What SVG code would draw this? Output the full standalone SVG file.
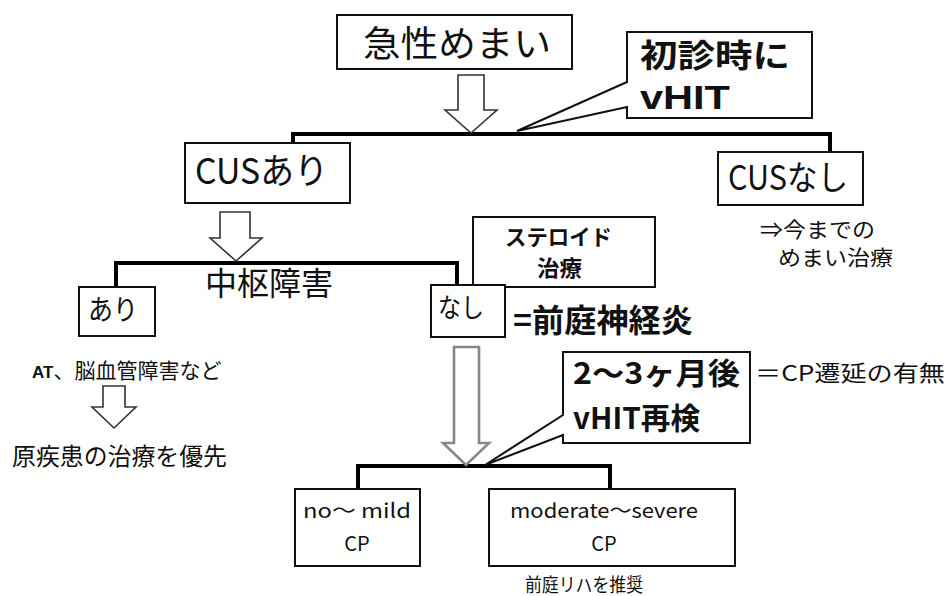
<svg xmlns="http://www.w3.org/2000/svg" width="947" height="596" viewBox="0 0 947 596">
<style>
.box{fill:#fff;stroke:#111;stroke-width:2}
.bar{fill:none;stroke:#000;stroke-width:4}
.arr{fill:#fff;stroke:#333;stroke-width:1.6;stroke-linejoin:miter}
.arrg{fill:#fff;stroke:#888;stroke-width:2.6}
.t{font-family:"Noto Sans CJK JP","Liberation Sans",sans-serif;fill:#111}
.b{font-weight:bold}
</style>
<rect width="947" height="596" fill="#fff"/>
<g id="connectors">
<path class="bar" d="M293,143 V134 H830 V152"/>
<path class="bar" d="M116,287 V263 H457 V285"/>
<path class="bar" d="M358,489 V466 H610 V489"/>
<polygon class="arr" points="458,75 484,75 484,110 497,110 471,133 445,110 458,110"/>
<polygon class="arr" points="220,212 250,212 250,238 262,238 236,261 210,238 220,238"/>
<polygon class="arr" points="103,386 125,386 125,407 136,407 114,428 92,407 103,407"/>
<polygon class="arrg" points="454,347 479,347 479,443 489,443 466,465 443,443 454,443"/>
</g>
<g id="n-acute">
<rect class="box" x="337" y="15" width="235" height="54"/>
<text class="t" x="363" y="57" font-size="36" textLength="188" lengthAdjust="spacingAndGlyphs">急性めまい</text>
</g>
<g id="n-callout1">
<path class="box" d="M627,32 H812 V118 H627 V107 L517,131 L627,82 Z"/>
<text class="t b"><tspan x="640" y="67" font-size="32" textLength="150" lengthAdjust="spacingAndGlyphs">初診時に</tspan><tspan x="640" y="109" font-size="34" font-family="Liberation Sans" textLength="90" lengthAdjust="spacingAndGlyphs">vHIT</tspan></text>
</g>
<g id="n-cus-yes">
<rect class="box" x="185" y="143" width="165" height="60"/>
<text class="t" x="195" y="184" font-size="36" textLength="133" lengthAdjust="spacingAndGlyphs">CUSあり</text>
</g>
<g id="n-cus-no">
<rect class="box" x="718" y="152" width="145" height="53"/>
<text class="t" x="728" y="190" font-size="34" textLength="120" lengthAdjust="spacingAndGlyphs">CUSなし</text>
<text class="t" x="760" y="237" font-size="21" textLength="115" lengthAdjust="spacingAndGlyphs">⇒今までの</text>
<text class="t" x="778" y="265" font-size="21" textLength="115" lengthAdjust="spacingAndGlyphs">めまい治療</text>
</g>
<g id="n-central">
<text class="t" x="205" y="295" font-size="32" textLength="128" lengthAdjust="spacingAndGlyphs">中枢障害</text>
</g>
<g id="n-ari">
<rect class="box" x="79" y="287" width="76" height="49"/>
<text class="t" x="88" y="320" font-size="28" textLength="50" lengthAdjust="spacingAndGlyphs">あり</text>
<text class="t" x="32" y="378" font-size="21"><tspan font-size="17" font-family="Liberation Sans" font-weight="bold">AT</tspan>、脳血管障害など</text>
<text class="t" x="12" y="465" font-size="24" textLength="215" lengthAdjust="spacingAndGlyphs">原疾患の治療を優先</text>
</g>
<g id="n-steroid">
<rect class="box" x="473" y="217" width="182" height="70"/>
<text class="t b" x="505" y="245" font-size="22" textLength="107" lengthAdjust="spacingAndGlyphs">ステロイド</text>
<text class="t b" x="537" y="276" font-size="22" textLength="45" lengthAdjust="spacingAndGlyphs">治療</text>
</g>
<g id="n-nashi">
<rect class="box" x="431" y="285" width="74" height="52"/>
<text class="t" x="438" y="317" font-size="26" textLength="46" lengthAdjust="spacingAndGlyphs">なし</text>
<text class="t b" x="513" y="332" font-size="32" textLength="180" lengthAdjust="spacingAndGlyphs">=前庭神経炎</text>
</g>
<g id="n-callout2">
<path class="box" d="M563,352 H750 V443 H563 V435 L485,465 L563,415 Z"/>
<text class="t b" x="573" y="384" font-size="30" textLength="167" lengthAdjust="spacingAndGlyphs">2～3ヶ月後</text>
<text class="t b" x="573" y="429" font-size="30" textLength="127" lengthAdjust="spacingAndGlyphs">vHIT再検</text>
<text class="t" x="755" y="381" font-size="22" textLength="190" lengthAdjust="spacingAndGlyphs">＝CP遷延の有無</text>
</g>
<g id="n-mild">
<rect class="box" x="295" y="489" width="125" height="77"/>
<text class="t" x="357" y="518" font-size="20" text-anchor="middle" textLength="108" lengthAdjust="spacingAndGlyphs">no～ mild</text>
<text class="t" x="357" y="551" font-size="20" text-anchor="middle">CP</text>
</g>
<g id="n-severe">
<rect class="box" x="489" y="489" width="246" height="77"/>
<text class="t" x="604" y="518" font-size="20" text-anchor="middle" textLength="188" lengthAdjust="spacingAndGlyphs">moderate～severe</text>
<text class="t" x="604" y="551" font-size="20" text-anchor="middle">CP</text>
<text class="t" x="525" y="592" font-size="19" textLength="118" lengthAdjust="spacingAndGlyphs">前庭リハを推奨</text>
</g>
</svg>
